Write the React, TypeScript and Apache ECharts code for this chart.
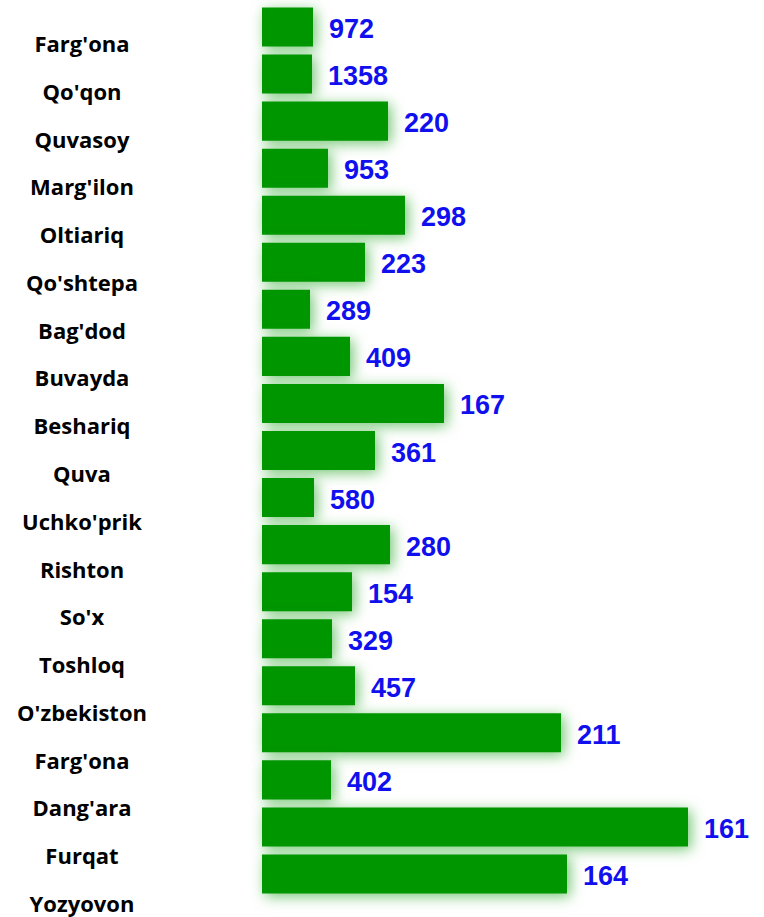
import React, { useEffect, useRef } from "react";
import * as echarts from "echarts";

const categories = [
  "Farg'ona", "Qo'qon", "Quvasoy", "Marg'ilon", "Oltiariq", "Qo'shtepa", "Bag'dod",
  "Buvayda", "Beshariq", "Quva", "Uchko'prik", "Rishton", "So'x", "Toshloq",
  "O'zbekiston", "Farg'ona", "Dang'ara", "Furqat", "Yozyovon",
];
// Numbers printed beside the bars
const valueLabels = [972, 1358, 220, 953, 298, 223, 289, 409, 167, 361, 580, 280, 154, 329, 457, 211, 402, 161, 164];
// Bar lengths as drawn in the picture (the labels do not scale with them)
const barLengths = [51, 50, 126, 66, 143, 103, 48, 88, 182, 113, 52, 128, 90, 70, 93, 299, 69, 426, 305];

export default function App() {
  const ref = useRef<HTMLDivElement>(null);
  useEffect(() => {
    if (!ref.current) return;
    const chart = echarts.init(ref.current, null, { renderer: "svg" });
    const catIdx = categories.map((_, i) => String(i));
    chart.setOption({
      animation: false,
      backgroundColor: "#ffffff",
      grid: [
        { left: 262, top: 3.5, width: 500, height: 894, containLabel: false },
        { left: 100, top: 43, width: 10, height: 860, containLabel: false },
      ],
      xAxis: [
        { type: "value", gridIndex: 0, min: 0, max: 500, show: false },
        { type: "value", gridIndex: 1, min: 0, max: 1, show: false },
      ],
      yAxis: [
        {
          type: "category",
          gridIndex: 0,
          inverse: true,
          data: catIdx,
          axisLine: { show: false },
          axisTick: { show: false },
          axisLabel: { show: false },
          splitLine: { show: false },
        },
        {
          type: "category",
          gridIndex: 1,
          inverse: true,
          boundaryGap: false,
          data: categories,
          axisLine: { show: false },
          axisTick: { show: false },
          splitLine: { show: false },
          axisLabel: {
            show: true,
            interval: 0,
            margin: 18,
            align: "center",
            fontFamily: "Open Sans",
            fontWeight: "bold",
            fontSize: 22,
            lineHeight: 22,
            color: "#000000",
          },
        },
      ],
      series: [
        {
          type: "bar",
          xAxisIndex: 0,
          yAxisIndex: 0,
          data: barLengths,
          barCategoryGap: "17%",
          itemStyle: {
            color: "#009600",
            shadowColor: "rgba(0,150,0,0.55)",
            shadowBlur: 14,
            shadowOffsetX: 3,
            shadowOffsetY: 3,
          },
          label: {
            show: true,
            position: "right",
            distance: 16,
            fontFamily: "Liberation Sans, Arial",
            fontWeight: "bold",
            fontSize: 27,
            color: "#1010ee",
            offset: [0, 2],
            formatter: (p: any) => String(valueLabels[p.dataIndex]),
          },
        },
      ],
    });
    return () => chart.dispose();
  }, []);
  return <div ref={ref} style={{ width: 764, height: 917, position: "absolute", left: 0, top: 0 }} />;
}
